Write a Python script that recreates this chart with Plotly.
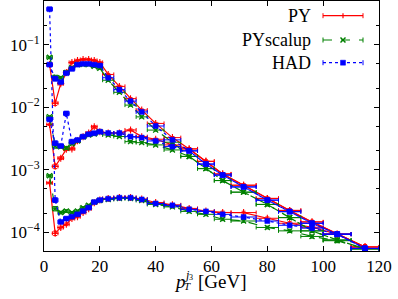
import plotly.graph_objects as go

# ---------------- data ----------------
bin_edges = [1, 3, 5, 7, 9, 11, 13, 15, 17, 19, 21, 25, 29, 33, 37, 43, 49, 55,
             61, 67, 76, 84, 92, 100, 110, 120]

# top group
top_py = [0.048, 0.0116, 0.0238, 0.036, 0.052, 0.056, 0.058, 0.058, 0.056, 0.052,
          0.0334, 0.0215, 0.0137, 0.0090, 0.0055, 0.00326, 0.00215, 0.00136,
          8.55e-4, 5.64e-4, 3.47e-4, 2.23e-4, 1.46e-4, 9.3e-5, 5.8e-5]
top_scalup = [0.063, 0.030, 0.0296, 0.036, 0.043, 0.048, 0.048, 0.048, 0.045, 0.042,
              0.027, 0.0173, 0.0108, 0.0070, 0.0043, 0.00275, 0.00163, 0.00104,
              6.7e-4, 4.37e-4, 2.78e-4, 1.71e-4, 1.05e-4, 7.5e-5, 5.4e-5]
top_had = [0.048, 0.0286, 0.0252, 0.035, 0.041, 0.048, 0.0494, 0.0494, 0.048, 0.0464,
           0.0296, 0.0191, 0.0125, 0.0084, 0.0050, 0.0030, 0.0020, 0.00123,
           8.2e-4, 5.3e-4, 3.26e-4, 2.13e-4, 1.39e-4, 9.3e-5, 5.5e-5]

# middle group
mid_py = [5.27e-3, 1.13e-3, 1.53e-3, 2.13e-3, 2.15e-3, 2.9e-3, 3.38e-3, 3.86e-3,
          4.86e-3, 4.06e-3, 3.86e-3, 3.86e-3, 4.32e-3, 3.38e-3, 3.07e-3, 2.49e-3,
          2.15e-3, 1.36e-3, 8.55e-4, 5.64e-4, 3.47e-4, 2.23e-4, 1.46e-4, 9.3e-5, 5.8e-5]
mid_scalup = [7.06e-3, 2.40e-3, 2.32e-3, 2.23e-3, 2.59e-3, 2.88e-3, 3.34e-3, 3.6e-3,
              3.72e-3, 4.01e-3, 3.6e-3, 3.4e-3, 2.81e-3, 2.71e-3, 2.49e-3, 2.07e-3,
              1.63e-3, 1.04e-3, 6.7e-4, 4.37e-4, 2.78e-4, 1.71e-4, 1.05e-4, 7.5e-5, 5.4e-5]
mid_had = [6.38e-3, 2.65e-3, 2.40e-3, 7.94e-3, 2.81e-3, 2.99e-3, 3.38e-3, 3.69e-3,
           3.83e-3, 4.06e-3, 3.86e-3, 3.86e-3, 3.38e-3, 3.26e-3, 2.88e-3, 2.34e-3,
           2.0e-3, 1.23e-3, 8.2e-4, 5.3e-4, 3.26e-4, 2.13e-4, 1.39e-4, 9.3e-5, 5.5e-5]

# bottom group
bot_py = [6.15e-4, 9.6e-5, 1.19e-4, 1.34e-4, 1.65e-4, 1.77e-4, 2.06e-4, 2.38e-4,
          2.96e-4, 3.26e-4, 3.47e-4, 3.6e-4, 3.6e-4, 3.4e-4, 2.99e-4, 2.74e-4,
          2.4e-4, 2.18e-4, 2.07e-4, 2.06e-4, 1.67e-4, 1.39e-4, 1.2e-4, 9.3e-5, 5.8e-5]
bot_scalup = [8.0e-4, 2.38e-4, 2.06e-4, 2.18e-4, 2.06e-4, 2.18e-4, 2.47e-4, 2.69e-4,
              3.03e-4, 3.22e-4, 3.34e-4, 3.47e-4, 3.47e-4, 3.22e-4, 2.78e-4, 2.54e-4,
              2.15e-4, 1.93e-4, 1.61e-4, 1.51e-4, 1.19e-4, 1.05e-4, 8.55e-5, 7.3e-5, 5.4e-5]
bot_had = [0.37, 3.26e-4, 1.46e-4, 1.65e-4, 1.77e-4, 1.93e-4, 2.18e-4, 2.47e-4,
           3.03e-4, 3.26e-4, 3.43e-4, 3.56e-4, 3.56e-4, 3.34e-4, 2.88e-4, 2.69e-4,
           2.32e-4, 2.15e-4, 1.93e-4, 1.75e-4, 1.51e-4, 1.29e-4, 1.16e-4, 9.3e-5, 5.5e-5]

rel_err = [0.03, 0.08, 0.05, 0.05, 0.04, 0.04, 0.04, 0.04, 0.04, 0.04, 0.04, 0.04,
           0.04, 0.04, 0.04, 0.04, 0.05, 0.05, 0.05, 0.05, 0.05, 0.06, 0.06, 0.07, 0.08]

series_names = ["PY", "PYscalup", "HAD"]
x_tick_vals = [0, 20, 40, 60, 80, 100, 120]
y_tick_vals = [1e-4, 1e-3, 1e-2, 1e-1]
y_tick_text = ["10<sup>−4</sup>", "10<sup>−3</sup>", "10<sup>−2</sup>", "10<sup>−1</sup>"]
y_minor_vals = [m * 10.0 ** e for e in range(-5, 0) for m in (2, 5)]

# ---------------- derived ----------------
centers = [(a + b) / 2 for a, b in zip(bin_edges[:-1], bin_edges[1:])]
half_w = [(b - a) / 2 for a, b in zip(bin_edges[:-1], bin_edges[1:])]

styles = {
    "PY": dict(color="#ff0000", dash="solid", symbol="cross-thin", size=5, lw=1.1),
    "PYscalup": dict(color="#008000", dash="dash", symbol="x-thin", size=5, lw=1.3),
    "HAD": dict(color="#0000ff", dash="dot", symbol="square", size=5, lw=0.5),
}
groups = {
    "PY": [top_py, mid_py, bot_py],
    "PYscalup": [top_scalup, mid_scalup, bot_scalup],
    "HAD": [top_had, mid_had, bot_had],
}

FONT = "Liberation Serif"
W, H = 398, 299
ML, MR, MT, MB = 44, 19, 1, 48
PW, PH = W - ML - MR, H - MT - MB


def px2x(px):
    return (px - ML) / PW


def py2y(py):
    return (MT + PH - py) / PH


fig = go.Figure()
for name in series_names:
    st = styles[name]
    for vals in groups[name]:
        fig.add_trace(go.Scatter(
            x=centers, y=vals, mode="lines+markers", showlegend=False,
            line=dict(color=st["color"], width=1.2, dash=st["dash"]),
            marker=dict(symbol=st["symbol"], size=st["size"], color=st["color"],
                        line=dict(color=st["color"], width=st["lw"])),
            error_x=dict(type="data", array=half_w, color=st["color"],
                         thickness=1, width=2),
            error_y=dict(type="data", array=[v * r for v, r in zip(vals, rel_err)],
                         color=st["color"], thickness=1, width=2),
        ))

# ---------------- custom legend (text left of sample) ----------------
shapes = []
annotations = []
leg_rows = [15.7, 40.0, 62.7]
x0, x1, xm = 323, 363, 343
for name, row in zip(series_names, leg_rows):
    st = styles[name]
    c = st["color"]
    yy = py2y(row)
    shapes.append(dict(type="line", xref="paper", yref="paper",
                       x0=px2x(x0), x1=px2x(x1), y0=yy, y1=yy,
                       line=dict(color=c, width=1.2, dash=st["dash"])))
    for xe in (x0, x1):
        shapes.append(dict(type="line", xref="paper", yref="paper",
                           x0=px2x(xe), x1=px2x(xe), y0=py2y(row - 2.5), y1=py2y(row + 2.5),
                           line=dict(color=c, width=1)))
    if name == "HAD":
        shapes.append(dict(type="rect", xref="paper", yref="paper",
                           x0=px2x(xm - 2.5), x1=px2x(xm + 2.5),
                           y0=py2y(row - 2.5), y1=py2y(row + 2.5),
                           fillcolor=c, line=dict(color=c, width=0.5)))
    elif name == "PYscalup":
        for dy in (-1, 1):
            shapes.append(dict(type="line", xref="paper", yref="paper",
                               x0=px2x(xm - 2.5), x1=px2x(xm + 2.5),
                               y0=py2y(row - 2.5 * dy), y1=py2y(row + 2.5 * dy),
                               line=dict(color=c, width=1.5)))
    else:
        shapes.append(dict(type="line", xref="paper", yref="paper",
                           x0=px2x(xm), x1=px2x(xm), y0=py2y(row - 2.5), y1=py2y(row + 2.5),
                           line=dict(color=c, width=1.2)))
    annotations.append(dict(text=name, xref="paper", yref="paper",
                            x=px2x(313), y=yy, xanchor="right", yanchor="middle",
                            showarrow=False, font=dict(family=FONT, size=18, color="black")))

# ---------------- x-axis title built from pieces ----------------
title_parts = [
    dict(text="<i>p</i>", x=px2x(180), y=py2y(281), xanchor="center",
         font=dict(family=FONT, size=19, color="black")),
    dict(text="<i>T</i>", x=px2x(187.5), y=py2y(286), xanchor="center",
         font=dict(family=FONT, size=11, color="black")),
    dict(text="<i>j</i>", x=px2x(186.5), y=py2y(275), xanchor="center",
         font=dict(family=FONT, size=12, color="black")),
    dict(text="3", x=px2x(190.5), y=py2y(277.5), xanchor="center",
         font=dict(family=FONT, size=8, color="black")),
    dict(text="[GeV]", x=px2x(222.5), y=py2y(281.5), xanchor="center",
         font=dict(family=FONT, size=19, color="black")),
]
for a in title_parts:
    a.update(xref="paper", yref="paper", showarrow=False, yanchor="middle")
annotations += title_parts

fig.update_layout(
    width=W, height=H,
    margin=dict(l=ML, r=MR, t=MT, b=MB, pad=0),
    paper_bgcolor="white", plot_bgcolor="white",
    showlegend=False,
    shapes=shapes, annotations=annotations,
    font=dict(family=FONT, size=16, color="black"),
)
fig.update_xaxes(
    range=[0, 120], tickvals=x_tick_vals, ticks="inside", ticklen=5,
    tickcolor="black", showline=True, linecolor="black", linewidth=1,
    mirror="allticks", showgrid=False, zeroline=False,
    ticklabeloverflow="allow",
    tickfont=dict(family=FONT, size=17, color="black"),
)
fig.update_yaxes(
    type="log", range=[-4.30103, -0.30103],
    tickvals=y_tick_vals, ticktext=y_tick_text, ticks="inside", ticklen=5,
    tickcolor="black", showline=True, linecolor="black", linewidth=1,
    mirror="allticks", showgrid=False, zeroline=False,
    tickfont=dict(family=FONT, size=17, color="black"),
    minor=dict(tickvals=y_minor_vals, ticks="inside", ticklen=3,
               tickcolor="black", showgrid=False),
)

fig.write_html("out.html",
               config={"displayModeBar": False, "staticPlot": True},
               post_script="document.body.style.margin='0px';"
                           "document.body.style.overflow='hidden';")
